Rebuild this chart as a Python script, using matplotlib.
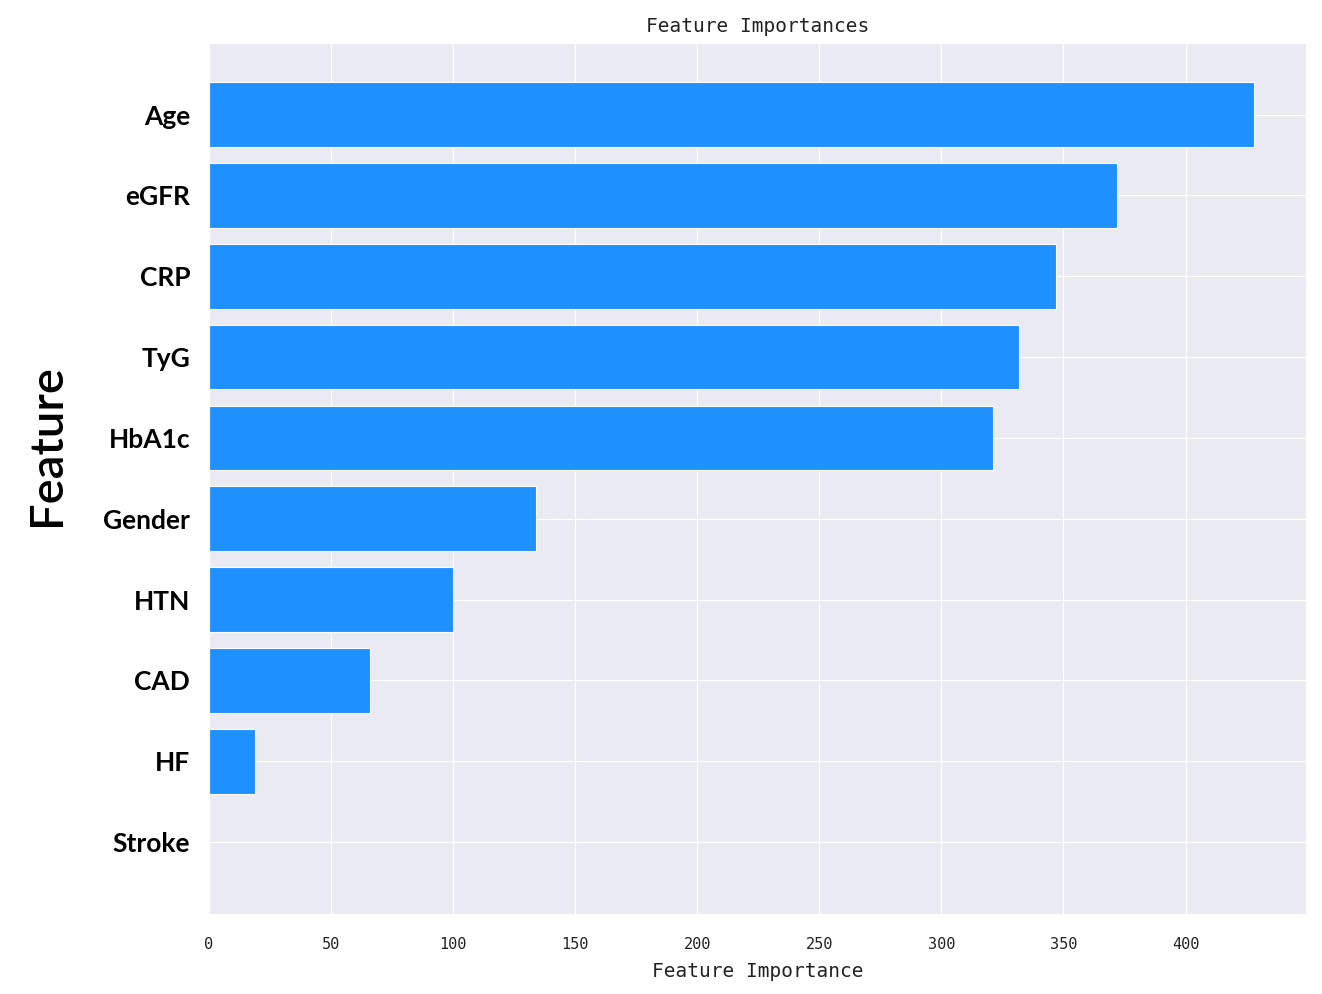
import matplotlib
matplotlib.use("Agg")
import matplotlib.pyplot as plt
import seaborn as sns

# feature importances, top to bottom as shown
features = ["Age", "eGFR", "CRP", "TyG", "HbA1c", "Gender", "HTN", "CAD", "HF", "Stroke"]
importances = [428, 372, 347, 332, 321, 134, 100, 66, 19, 0]

sns.set_style("darkgrid")

fig = plt.figure(figsize=(13.22, 9.94), dpi=100)
ax = fig.add_axes([0.158, 0.0805, 0.830, 0.8765])

# barh draws bottom-up, so reverse to keep Age on top
ax.barh(features[::-1], importances[::-1], height=0.8,
        color="#1E90FF", edgecolor="white", linewidth=0.8)

mono = "DejaVu Sans Mono"
ax.set_title("Feature Importances", fontfamily=mono, fontsize=14, pad=8, color="#222222")
ax.set_xlabel("Feature Importance", fontfamily=mono, fontsize=14, labelpad=7, color="#222222")

# big y label sits a bit above the axes centre in the original
fig.text(47 / 1322, 1 - 445 / 994, "Feature", rotation=90, ha="center", va="center",
         fontfamily="Lato", fontsize=34, fontweight="semibold", color="black")

for lab in ax.get_xticklabels():
    lab.set_fontfamily(mono)
    lab.set_fontsize(11)
    lab.set_color("#222222")
for lab in ax.get_yticklabels():
    lab.set_fontfamily("Lato")
    lab.set_fontweight("bold")
    lab.set_fontsize(19)
    lab.set_color("black")

ax.tick_params(axis="x", pad=13)
ax.tick_params(axis="y", pad=10)

fig.savefig("out.png", dpi=100)
